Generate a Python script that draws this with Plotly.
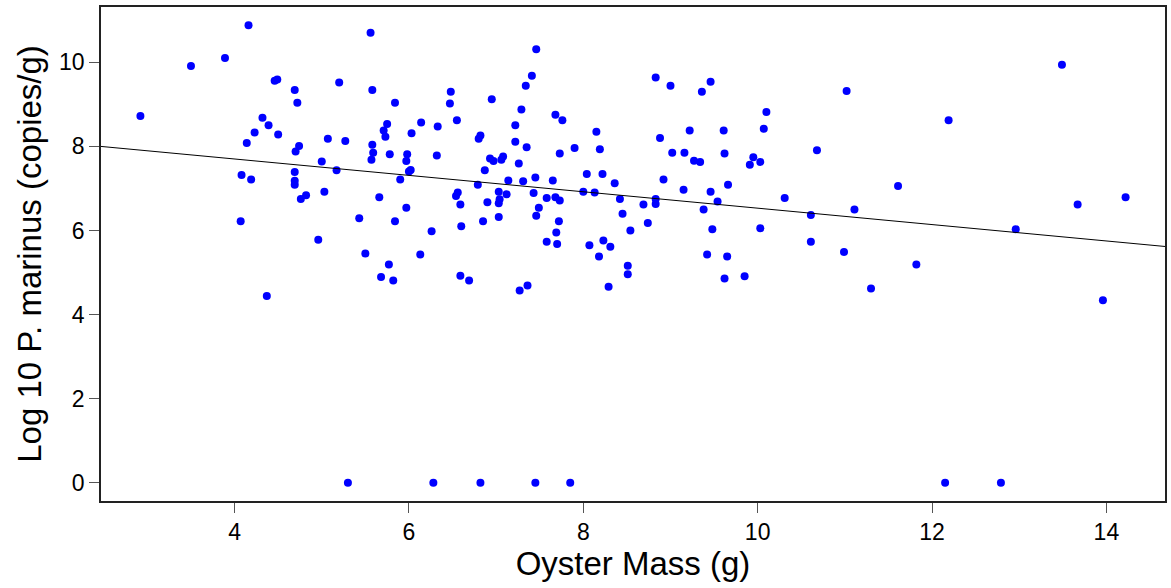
import plotly.graph_objects as go

oyster_mass = [
    4.16, 5.56, 3.50, 3.89, 2.92, 4.46, 4.49, 4.69, 4.72, 5.20,
    5.58, 5.84, 6.48, 6.47, 6.95, 4.32, 4.39, 4.23, 4.50, 4.14,
    5.07, 5.27, 4.74, 4.70, 5.75, 5.71, 5.73, 5.58, 5.59, 5.57,
    5.78, 6.14, 6.03, 6.33, 6.55, 6.82, 6.80, 5.98, 5.97, 6.02,
    6.00, 6.32, 6.93, 6.97, 6.87, 5.00, 5.17, 4.69, 4.69, 4.69,
    4.08, 4.19, 5.90, 6.79, 5.03, 4.82, 4.76, 5.66, 5.97, 6.54,
    6.56, 6.59, 6.90, 4.07, 5.43, 5.84, 6.26, 6.60, 6.85, 4.96,
    5.50, 6.13, 5.77, 5.68, 5.82, 6.59, 6.69, 4.37, 5.30, 6.28,
    6.82, 7.46, 7.41, 7.34, 7.29, 7.22, 7.22, 7.35, 7.68, 7.76,
    7.90, 8.15, 8.19, 7.73, 7.08, 7.06, 7.26, 7.14, 7.31, 7.45,
    7.65, 8.04, 8.22, 8.36, 7.03, 7.12, 7.04, 7.03, 7.43, 7.58,
    7.68, 7.73, 7.49, 7.46, 8.00, 8.13, 8.42, 8.45, 7.03, 7.72,
    7.69, 7.58, 7.70, 8.07, 8.23, 8.31, 8.18, 8.54, 8.74, 8.69,
    8.83, 8.83, 8.92, 8.88, 8.83, 9.00, 9.36, 9.46, 9.22, 9.02,
    9.16, 9.27, 9.34, 9.15, 9.46, 9.54, 9.38, 9.48, 9.61, 9.62,
    9.66, 9.42, 9.65, 10.10, 10.07, 9.91, 9.95, 10.03, 10.03, 10.31,
    10.68, 10.61, 10.61, 11.02, 11.11, 10.99, 8.51, 8.51, 8.29, 7.36,
    7.27, 9.62, 9.85, 11.30, 7.45, 7.85, 13.49, 12.19, 11.61, 12.96,
    13.67, 14.22, 11.82, 13.96, 12.15, 12.79,
]

log10_pmarinus = [
    10.88, 10.70, 9.91, 10.10, 8.72, 9.56, 9.59, 9.34, 9.04, 9.52,
    9.34, 9.04, 9.30, 9.02, 9.12, 8.68, 8.50, 8.33, 8.28, 8.08,
    8.18, 8.13, 8.01, 7.88, 8.53, 8.38, 8.23, 8.04, 7.85, 7.68,
    7.81, 8.57, 8.31, 8.47, 8.62, 8.26, 8.18, 7.81, 7.65, 7.44,
    7.40, 7.78, 7.71, 7.65, 7.43, 7.64, 7.43, 7.39, 7.18, 7.09,
    7.32, 7.21, 7.21, 7.09, 6.92, 6.84, 6.75, 6.79, 6.54, 6.82,
    6.90, 6.62, 6.67, 6.22, 6.29, 6.22, 5.98, 6.10, 6.22, 5.78,
    5.45, 5.43, 5.19, 4.89, 4.81, 4.92, 4.81, 4.44, 0.0, 0.0,
    0.0, 10.31, 9.68, 9.44, 8.88, 8.50, 8.11, 7.98, 8.75, 8.62,
    7.96, 8.35, 7.93, 7.83, 7.76, 7.68, 7.59, 7.19, 7.17, 7.26,
    7.19, 7.34, 7.34, 7.12, 6.92, 6.86, 6.74, 6.65, 6.89, 6.77,
    6.79, 6.71, 6.54, 6.35, 6.92, 6.90, 6.75, 6.40, 6.32, 6.22,
    5.95, 5.73, 5.68, 5.65, 5.76, 5.61, 5.38, 6.00, 6.18, 6.62,
    6.75, 6.63, 7.21, 8.20, 9.64, 9.44, 9.30, 9.54, 8.38, 7.85,
    7.85, 7.66, 7.63, 6.97, 6.92, 6.69, 6.50, 6.03, 8.38, 7.83,
    7.09, 5.43, 5.38, 8.82, 8.42, 7.56, 7.74, 7.63, 6.05, 6.77,
    7.91, 6.37, 5.73, 9.32, 6.50, 5.49, 5.16, 4.96, 4.66, 4.69,
    4.57, 4.86, 4.91, 4.62, 0.0, 0.0, 9.94, 8.62, 7.06, 6.03,
    6.62, 6.79, 5.19, 4.34, 0.0, 0.0,
]

# Fitted regression line
fit_intercept = 8.48
fit_slope = -0.195

x_tick_values = [4, 6, 8, 10, 12, 14]
y_tick_values = [0, 2, 4, 6, 8, 10]

# R-style axis ranges (4% padding)
xmin, xmax = min(oyster_mass), max(oyster_mass)
ymin, ymax = min(log10_pmarinus), max(log10_pmarinus)
xpad = 0.04 * (xmax - xmin)
ypad = 0.04 * (ymax - ymin)
x_range = [xmin - xpad, xmax + xpad]
y_range = [ymin - ypad, ymax + ypad]

fig = go.Figure()
fig.add_trace(go.Scatter(
    x=oyster_mass, y=log10_pmarinus, mode="markers",
    marker=dict(color="#0000ff", size=8, line=dict(width=0)),
    showlegend=False, hoverinfo="x+y",
))
line_x = x_range
line_y = [fit_intercept + fit_slope * v for v in line_x]
fig.add_trace(go.Scatter(
    x=line_x, y=line_y, mode="lines",
    line=dict(color="black", width=1), showlegend=False,
))

FONT = "Liberation Sans, Arial, sans-serif"
axis_font = dict(family=FONT, size=23, color="black")
title_font = dict(family=FONT, size=33, color="black")
fig.update_layout(
    width=1171, height=588,
    margin=dict(l=101, r=4, t=7, b=87),
    paper_bgcolor="white", plot_bgcolor="white",
    font=dict(family=FONT, color="black"),
)
fig.update_xaxes(
    range=x_range, tickvals=x_tick_values, ticks="outside", ticklen=10,
    tickcolor="#555555", tickwidth=1, showgrid=False, zeroline=False,
    showline=True, mirror=True, linecolor="#222222", linewidth=1.5,
    tickfont=axis_font,
    title=dict(text="Oyster Mass (g)", font=title_font, standoff=8),
)
fig.update_yaxes(
    range=y_range, tickvals=y_tick_values, ticks="outside", ticklen=10,
    tickcolor="#555555", tickwidth=1, showgrid=False, zeroline=False,
    showline=True, mirror=True, linecolor="#222222", linewidth=1.5,
    tickfont=axis_font,
    title=dict(text="Log 10 P. marinus (copies/g)", font=title_font, standoff=8),
)

fig.write_html("out.html")
